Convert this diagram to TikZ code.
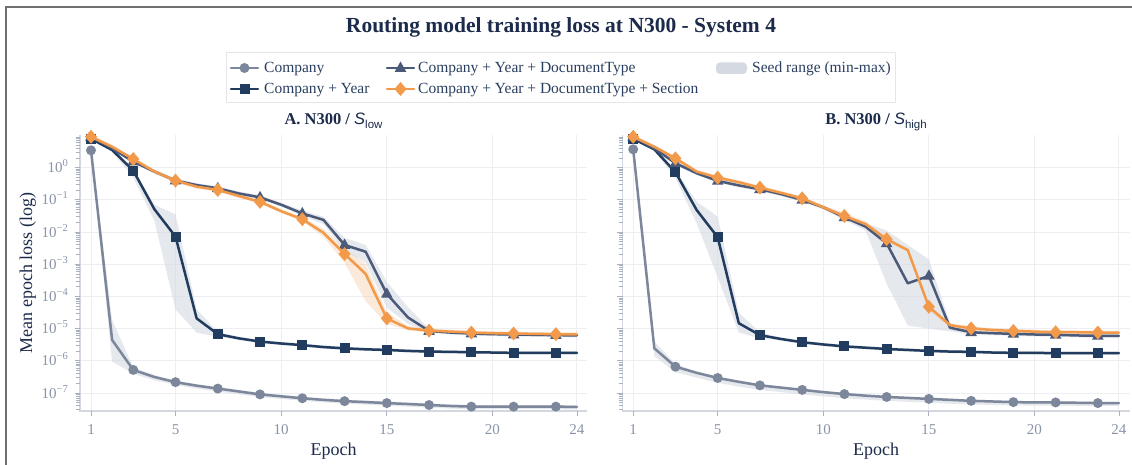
\documentclass[tikz,border=0pt]{standalone}
\usepackage{fontspec}
\setmainfont{Liberation Serif}
\newfontfamily\sansf{Liberation Sans}

\definecolor{ink}{HTML}{1C2B4B}
\definecolor{legtext}{HTML}{2A3F5F}
\definecolor{tickc}{HTML}{8A94A8}
\definecolor{tickmk}{HTML}{AAB2C0}
\definecolor{gridc}{HTML}{ECEEF2}
\definecolor{axisc}{HTML}{D3D8E0}
\definecolor{legbord}{HTML}{E6E6E6}
\definecolor{framec}{HTML}{707070}
\definecolor{cco}{HTML}{7D879C}
\definecolor{ccy}{HTML}{213C5E}
\definecolor{cdt}{HTML}{4B5A78}
\definecolor{csec}{HTML}{F2994A}
\definecolor{bandc}{HTML}{D5DAE2}
\definecolor{bandor}{HTML}{F5C9A0}

% log10 loss values per epoch (1..24): mean, upper and lower seed envelope
% panel A
\def\CLm{{0.54,-5.35,-6.28,-6.50,-6.66,-6.77,-6.86,-6.95,-7.04,-7.10,-7.16,-7.21,-7.25,-7.28,-7.31,-7.34,-7.37,-7.40,-7.42,-7.42,-7.42,-7.42,-7.42,-7.43}}
\def\CLu{{0.60,-4.73,-6.20,-6.44,-6.61,-6.72,-6.81,-6.90,-6.99,-7.05,-7.11,-7.16,-7.20,-7.23,-7.26,-7.29,-7.32,-7.35,-7.37,-7.37,-7.37,-7.37,-7.37,-7.38}}
\def\CLl{{0.48,-6.02,-6.40,-6.60,-6.75,-6.86,-6.95,-7.04,-7.12,-7.18,-7.24,-7.29,-7.33,-7.36,-7.39,-7.42,-7.45,-7.48,-7.50,-7.50,-7.50,-7.50,-7.50,-7.51}}
\def\YLm{{0.90,0.55,-0.09,-1.29,-2.14,-4.68,-5.17,-5.30,-5.40,-5.46,-5.51,-5.57,-5.61,-5.64,-5.66,-5.69,-5.71,-5.72,-5.73,-5.74,-5.75,-5.75,-5.75,-5.75}}
\def\YLu{{0.95,0.62,-0.03,-1.15,-1.45,-4.40,-5.10,-5.25,-5.35,-5.41,-5.46,-5.52,-5.56,-5.59,-5.61,-5.64,-5.66,-5.67,-5.68,-5.69,-5.70,-5.70,-5.70,-5.70}}
\def\YLl{{0.85,0.50,-0.30,-1.65,-4.40,-5.12,-5.25,-5.35,-5.45,-5.51,-5.56,-5.62,-5.66,-5.69,-5.71,-5.74,-5.76,-5.77,-5.78,-5.79,-5.80,-5.80,-5.80,-5.80}}
\def\DLm{{0.96,0.60,0.19,-0.12,-0.40,-0.54,-0.64,-0.80,-0.92,-1.15,-1.42,-1.62,-2.40,-2.61,-3.92,-4.65,-5.07,-5.12,-5.15,-5.17,-5.18,-5.19,-5.20,-5.21}}
\def\DLu{{1.02,0.66,0.25,-0.06,-0.34,-0.48,-0.58,-0.74,-0.86,-1.09,-1.33,-1.52,-2.18,-2.40,-3.55,-4.33,-5.00,-5.06,-5.09,-5.11,-5.12,-5.13,-5.14,-5.15}}
\def\DLl{{0.90,0.54,0.13,-0.18,-0.46,-0.60,-0.70,-0.86,-0.98,-1.21,-1.50,-1.75,-2.58,-2.95,-4.35,-4.85,-5.12,-5.18,-5.21,-5.23,-5.24,-5.25,-5.26,-5.27}}
\def\OLm{{0.96,0.65,0.27,-0.12,-0.40,-0.59,-0.69,-0.88,-1.06,-1.35,-1.60,-2.02,-2.68,-3.30,-4.68,-4.99,-5.06,-5.09,-5.12,-5.14,-5.15,-5.16,-5.17,-5.18}}
\def\OLu{{1.02,0.71,0.33,-0.06,-0.34,-0.53,-0.63,-0.82,-1.00,-1.29,-1.54,-1.90,-2.50,-3.00,-4.50,-4.92,-5.00,-5.03,-5.06,-5.08,-5.09,-5.10,-5.11,-5.12}}
\def\OLl{{0.90,0.59,0.21,-0.18,-0.46,-0.65,-0.75,-0.94,-1.12,-1.41,-1.66,-2.15,-2.95,-4.15,-4.85,-5.05,-5.12,-5.15,-5.18,-5.20,-5.21,-5.22,-5.23,-5.24}}
% panel B
\def\CRm{{0.57,-5.61,-6.18,-6.37,-6.53,-6.65,-6.76,-6.83,-6.90,-6.97,-7.03,-7.08,-7.12,-7.15,-7.18,-7.21,-7.24,-7.26,-7.28,-7.29,-7.29,-7.30,-7.31,-7.31}}
\def\CRu{{0.63,-5.40,-6.10,-6.33,-6.49,-6.61,-6.72,-6.79,-6.86,-6.93,-6.99,-7.04,-7.08,-7.11,-7.14,-7.17,-7.20,-7.22,-7.24,-7.25,-7.25,-7.26,-7.27,-7.27}}
\def\CRl{{0.51,-5.85,-6.35,-6.52,-6.68,-6.80,-6.90,-6.97,-7.04,-7.10,-7.16,-7.20,-7.24,-7.27,-7.30,-7.33,-7.35,-7.37,-7.38,-7.39,-7.39,-7.40,-7.40,-7.40}}
\def\YRm{{0.90,0.57,-0.14,-1.31,-2.16,-4.83,-5.20,-5.32,-5.42,-5.49,-5.55,-5.59,-5.63,-5.66,-5.69,-5.71,-5.72,-5.74,-5.75,-5.75,-5.76,-5.76,-5.76,-5.76}}
\def\YRu{{0.95,0.62,-0.08,-1.05,-1.52,-4.50,-5.12,-5.27,-5.37,-5.44,-5.50,-5.54,-5.58,-5.61,-5.64,-5.66,-5.67,-5.69,-5.70,-5.70,-5.71,-5.71,-5.71,-5.71}}
\def\YRl{{0.85,0.52,-0.32,-1.72,-3.40,-5.12,-5.30,-5.37,-5.47,-5.54,-5.60,-5.64,-5.68,-5.71,-5.74,-5.76,-5.77,-5.79,-5.80,-5.80,-5.81,-5.81,-5.81,-5.81}}
\def\DRm{{0.96,0.60,0.14,-0.17,-0.41,-0.55,-0.67,-0.82,-1.00,-1.23,-1.54,-1.83,-2.35,-3.59,-3.36,-4.97,-5.11,-5.14,-5.16,-5.18,-5.19,-5.21,-5.22,-5.22}}
\def\DRu{{1.02,0.66,0.20,-0.11,-0.35,-0.49,-0.61,-0.76,-0.94,-1.17,-1.45,-1.72,-1.95,-2.40,-2.85,-4.82,-5.05,-5.08,-5.10,-5.12,-5.13,-5.15,-5.16,-5.16}}
\def\DRl{{0.90,0.54,0.08,-0.23,-0.47,-0.61,-0.73,-0.88,-1.06,-1.29,-1.62,-1.95,-3.60,-4.90,-5.00,-5.08,-5.17,-5.20,-5.22,-5.24,-5.25,-5.27,-5.28,-5.28}}
\def\ORm{{0.96,0.65,0.29,-0.12,-0.31,-0.45,-0.62,-0.78,-0.95,-1.23,-1.50,-1.75,-2.22,-2.56,-4.32,-4.89,-4.99,-5.04,-5.07,-5.09,-5.11,-5.11,-5.12,-5.12}}
\def\ORu{{1.02,0.71,0.35,-0.06,-0.25,-0.39,-0.56,-0.72,-0.89,-1.17,-1.40,-1.66,-2.16,-2.50,-4.26,-4.83,-4.93,-4.98,-5.01,-5.03,-5.05,-5.05,-5.06,-5.06}}
\def\ORl{{0.90,0.59,0.23,-0.18,-0.37,-0.51,-0.68,-0.84,-1.01,-1.29,-1.60,-1.84,-2.28,-2.62,-4.45,-4.95,-5.05,-5.10,-5.13,-5.15,-5.17,-5.17,-5.18,-5.18}}

% vertical position of a log10 value
\newcommand\ly[1]{167.7-32.2*(#1)}
% line through the 24 epochs: style, x of epoch 1, epoch step, values
\newcommand\seriesline[4]{%
  \draw[#1] ({#2},{\ly{#4[0]}}) \foreach \i in {1,...,23} { -- ({#2+\i*#3},{\ly{#4[\i]}}) };}
% shaded envelope: style, x of epoch 1, epoch step, upper, lower
\newcommand\envelope[5]{%
  \fill[#1] ({#2},{\ly{#4[0]}}) \foreach \i in {1,...,23} { -- ({#2+\i*#3},{\ly{#4[\i]}}) }
    \foreach \i in {23,22,...,0} { -- ({#2+\i*#3},{\ly{#5[\i]}}) } -- cycle;}
% markers on odd epochs: colour, pic, x of epoch 1, epoch step, values
\newcommand\plotmarkers[5]{%
  \foreach \i in {0,2,...,22} { \pic[color=#1] at ({#3+\i*#4},{\ly{#5[\i]}}) {#2}; }}
% frame of one panel: left edge, right edge, x of epoch 1, epoch step
\newcommand\panelframe[4]{%
  \foreach \d in {0,-1,...,-7} { \draw[gridln] (#1,{\ly{\d}}) -- (#2,{\ly{\d}}); }
  \foreach \e in {1,5,10,15,20,24} { \draw[gridln] ({#3+(\e-1)*#4},135) -- ({#3+(\e-1)*#4},411); }
  \draw[axln] (#1,135) -- (#1,411) -- (#2,411);
  \foreach \e in {1,5,10,15,20,24} { \draw[tk] ({#3+(\e-1)*#4},411) -- ({#3+(\e-1)*#4},416); }
  \foreach \D in {-8,...,0} { \foreach \m in {1,...,9} {
    \pgfmathsetmacro\ty{167.7-32.2*(\D+log10(\m))}
    \ifdim\ty pt>135pt \ifdim\ty pt<411pt
      \ifnum\m=1 \draw[tk] (#1-5.5,\ty) -- (#1,\ty); \else \draw[tk] (#1-4,\ty) -- (#1,\ty); \fi
    \fi\fi }}}

\begin{document}
\begin{tikzpicture}[x=1pt,y=-1pt,
  ticklab/.style={font=\fontsize{15}{18}\selectfont, text=tickc, inner sep=0pt},
  legtxt/.style={font=\fontsize{15.5}{18}\selectfont, text=legtext, inner sep=0pt, anchor=base west},
  paneltitle/.style={font=\bfseries\fontsize{16.5}{20}\selectfont, text=ink, inner sep=0pt, anchor=base},
  axtitle/.style={font=\fontsize{18}{22}\selectfont, text=ink, inner sep=0pt, anchor=base},
  gridln/.style={draw=gridc, line width=1pt},
  axln/.style={draw=axisc, line width=1.2pt},
  tk/.style={draw=tickmk, line width=0.9pt},
  tr/.style={line width=2.5pt, line join=round, line cap=round},
  bandG/.style={fill=bandc, fill opacity=0.6},
  bandO/.style={fill=bandor, fill opacity=0.4},
  mcirc/.pic={\fill (0,0) circle (5pt);},
  msq/.pic={\fill (-5pt,-5pt) rectangle (5pt,5pt);},
  mtri/.pic={\fill (0pt,6.5pt) -- (5.8pt,-3.8pt) -- (-5.8pt,-3.8pt) -- cycle;},
  mdia/.pic={\fill (0pt,7pt) -- (6pt,0pt) -- (0pt,-7pt) -- (-6pt,0pt) -- cycle;}]
\useasboundingbox (0,0) rectangle (1132,465);
\fill[white] (0,0) rectangle (1132,465);

% outer frame
\draw[framec, line width=1.6pt] (6,465) -- (6,7) -- (1132,7);

% title
\node[font=\bfseries\fontsize{21.5}{26}\selectfont, text=ink, inner sep=0pt, anchor=base] (title) at (561,33) {Routing model training loss at N300 - System 4};

% legend
\draw[legbord, fill=white, line width=1pt] (226,53) rectangle (895,103);
\draw[cco, tr] (231,68) -- (258,68); \pic[color=cco] at (244.5,68) {mcirc};
\node[legtxt] (lgA) at (264,73) {Company};
\draw[cdt, tr] (387,68) -- (414,68); \pic[color=cdt] at (400.5,68) {mtri};
\node[legtxt] (lgC) at (418,73) {Company + Year + DocumentType};
\fill[bandc, rounded corners=4pt] (716,62.5) rectangle (747,74);
\node[legtxt] (lgS) at (752,73) {Seed range (min-max)};
\draw[ccy, tr] (231,89) -- (258,89); \pic[color=ccy] at (244.5,89) {msq};
\node[legtxt] (lgB) at (264,94) {Company + Year};
\draw[csec, tr] (387,89) -- (414,89); \pic[color=csec] at (400.5,89) {mdia};
\node[legtxt] (lgD) at (418,94) {Company + Year + DocumentType + Section};

% panel titles
\node[paneltitle] (ttlA) at (333.5,125) {A. N300 / {\sansf\mdseries\itshape S}\raisebox{-3.5pt}{\sansf\mdseries\fontsize{11.5}{12}\selectfont low}};
\node[paneltitle] (ttlB) at (876,125) {B. N300 / {\sansf\mdseries\itshape S}\raisebox{-3.5pt}{\sansf\mdseries\fontsize{11.5}{12}\selectfont high}};

% axes and grids
\panelframe{80}{587}{91}{21.13}
\panelframe{622.8}{1130}{633.2}{21.12}

% y tick labels (shared scale)
\foreach \d/\ex in {0/0,-1/−1,-2/−2,-3/−3,-4/−4,-5/−5,-6/−6,-7/−7} {
  \node[ticklab, anchor=base east] (yl\d) at (68,{\ly{\d}+5}) {10\raisebox{6pt}{\fontsize{10.5}{11}\selectfont\ex}};
}
% x tick labels
\foreach \e in {1,5,10,15,20,24} {
  \node[ticklab, anchor=base] (xa\e) at ({91+(\e-1)*21.13},434) {\e};
  \node[ticklab, anchor=base] (xb\e) at ({633.2+(\e-1)*21.12},434) {\e};
}
% axis titles
\node[axtitle] (xtA) at (333.5,455) {Epoch};
\node[axtitle] (xtB) at (876,455) {Epoch};
\node[axtitle, rotate=90] (ytA) at (32,273) {Mean epoch loss (log)};

% seed envelopes
\envelope{bandG}{91}{21.13}{\CLu}{\CLl}
\envelope{bandG}{91}{21.13}{\YLu}{\YLl}
\envelope{bandG}{91}{21.13}{\DLu}{\DLl}
\envelope{bandO}{91}{21.13}{\OLu}{\OLl}
\envelope{bandG}{633.2}{21.12}{\CRu}{\CRl}
\envelope{bandG}{633.2}{21.12}{\YRu}{\YRl}
\envelope{bandG}{633.2}{21.12}{\DRu}{\DRl}
\envelope{bandO}{633.2}{21.12}{\ORu}{\ORl}

% panel A traces
\seriesline{cco,tr}{91}{21.13}{\CLm}  \plotmarkers{cco}{mcirc}{91}{21.13}{\CLm}
\seriesline{ccy,tr}{91}{21.13}{\YLm}  \plotmarkers{ccy}{msq}{91}{21.13}{\YLm}
\seriesline{cdt,tr}{91}{21.13}{\DLm}  \plotmarkers{cdt}{mtri}{91}{21.13}{\DLm}
\seriesline{csec,tr}{91}{21.13}{\OLm} \plotmarkers{csec}{mdia}{91}{21.13}{\OLm}
% panel B traces
\seriesline{cco,tr}{633.2}{21.12}{\CRm}  \plotmarkers{cco}{mcirc}{633.2}{21.12}{\CRm}
\seriesline{ccy,tr}{633.2}{21.12}{\YRm}  \plotmarkers{ccy}{msq}{633.2}{21.12}{\YRm}
\seriesline{cdt,tr}{633.2}{21.12}{\DRm}  \plotmarkers{cdt}{mtri}{633.2}{21.12}{\DRm}
\seriesline{csec,tr}{633.2}{21.12}{\ORm} \plotmarkers{csec}{mdia}{633.2}{21.12}{\ORm}
\end{tikzpicture}
\end{document}
